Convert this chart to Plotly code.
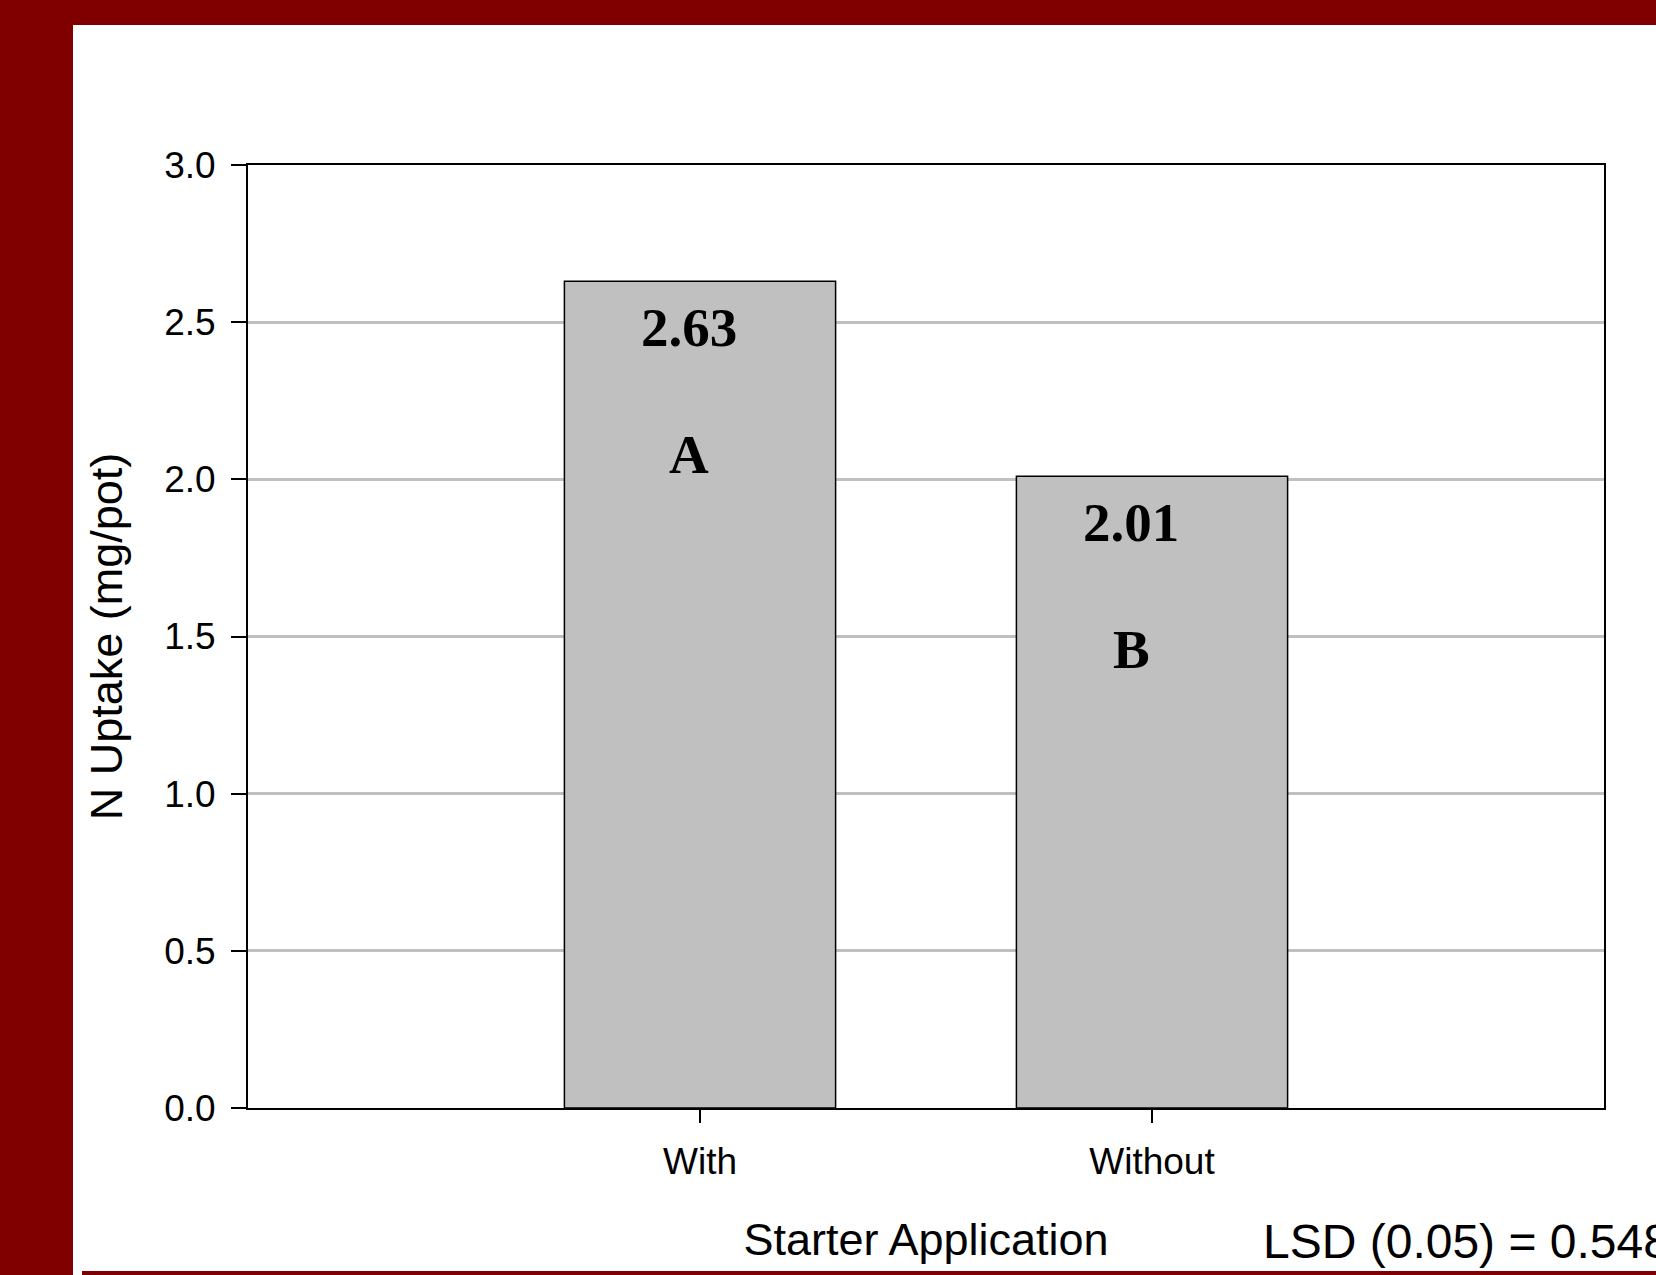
import plotly.graph_objects as go

# Data
categories = ["With", "Without"]
n_uptake = [2.63, 2.01]
letters = ["A", "B"]
y_ticks = [0.0, 0.5, 1.0, 1.5, 2.0, 2.5, 3.0]
lsd_text = "LSD (0.05) = 0.548"

W, H = 1656, 1275
L, R, T, B = 248, 52, 165, 167
plot_w = W - L - R
plot_h = H - T - B


def px_x(p):
    return (p - L) / plot_w


def px_y(p):
    return 1 - (p - T) / plot_h


MAROON = "#800000"
SANS = "Liberation Sans, Arial, sans-serif"
SERIF = "Liberation Serif, Times New Roman, serif"

fig = go.Figure()
fig.add_trace(go.Bar(
    x=categories,
    y=n_uptake,
    width=0.6,
    marker=dict(color="#c0c0c0", line=dict(color="black", width=1.5)),
    showlegend=False,
    hoverinfo="skip",
))

# horizontal nudge of the in-bar labels (pixels)
label_dx = [-11, -21]

annotations = []
for cat, val, let, dx in zip(categories, n_uptake, letters, label_dx):
    annotations.append(dict(
        x=cat, y=val, xref="x", yref="y", text=f"<b>{val:.2f}</b>",
        showarrow=False, xshift=dx, yshift=-46, yanchor="middle",
        font=dict(family=SERIF, size=55, color="black"),
    ))
    annotations.append(dict(
        x=cat, y=val, xref="x", yref="y", text=f"<b>{let}</b>",
        showarrow=False, xshift=dx, yshift=-173, yanchor="middle",
        font=dict(family=SERIF, size=55, color="black"),
    ))

annotations.append(dict(
    x=px_x(1261), y=px_y(1241), xref="paper", yref="paper",
    text=lsd_text, showarrow=False, xanchor="left", yanchor="middle",
    font=dict(family=SANS, size=48, color="black"),
))

# Maroon frame around the slide, white panel inside
shapes = [
    dict(type="rect", xref="paper", yref="paper", layer="below",
         x0=px_x(0), x1=px_x(W), y0=px_y(0), y1=px_y(H),
         fillcolor=MAROON, line=dict(width=0)),
    dict(type="rect", xref="paper", yref="paper", layer="below",
         x0=px_x(73), x1=px_x(W + 5), y0=px_y(25), y1=px_y(1271),
         fillcolor="white", line=dict(width=0)),
    dict(type="rect", xref="paper", yref="paper", layer="below",
         x0=px_x(73), x1=px_x(82), y0=px_y(1270), y1=px_y(H + 2),
         fillcolor="white", line=dict(width=0)),
]

fig.update_layout(
    width=W, height=H,
    margin=dict(l=L, r=R, t=T, b=B, pad=0),
    paper_bgcolor=MAROON,
    plot_bgcolor="white",
    bargap=0.4,
    annotations=annotations,
    shapes=shapes,
    font=dict(family=SANS, color="black"),
)

fig.update_xaxes(
    type="category",
    range=[-1, 2],
    showline=True, mirror=True, linecolor="black", linewidth=2,
    ticks="outside", ticklen=13, tickwidth=2, tickcolor="black",
    ticklabelstandoff=7,
    tickfont=dict(family=SANS, size=37, color="black"),
    showgrid=False,
    title=dict(text="Starter Application", standoff=42,
               font=dict(family=SANS, size=45, color="black")),
)

fig.update_yaxes(
    range=[0, 3],
    tickvals=y_ticks,
    tickformat=".1f",
    showline=True, mirror=True, linecolor="black", linewidth=2,
    ticks="outside", ticklen=15, tickwidth=2, tickcolor="black",
    ticklabelstandoff=8,
    tickfont=dict(family=SANS, size=37, color="black"),
    showgrid=True, gridcolor="#c0c0c0", gridwidth=3,
    zeroline=False,
    title=dict(text="N Uptake (mg/pot)", standoff=27,
               font=dict(family=SANS, size=45, color="black")),
)

fig.write_html("out.html")
